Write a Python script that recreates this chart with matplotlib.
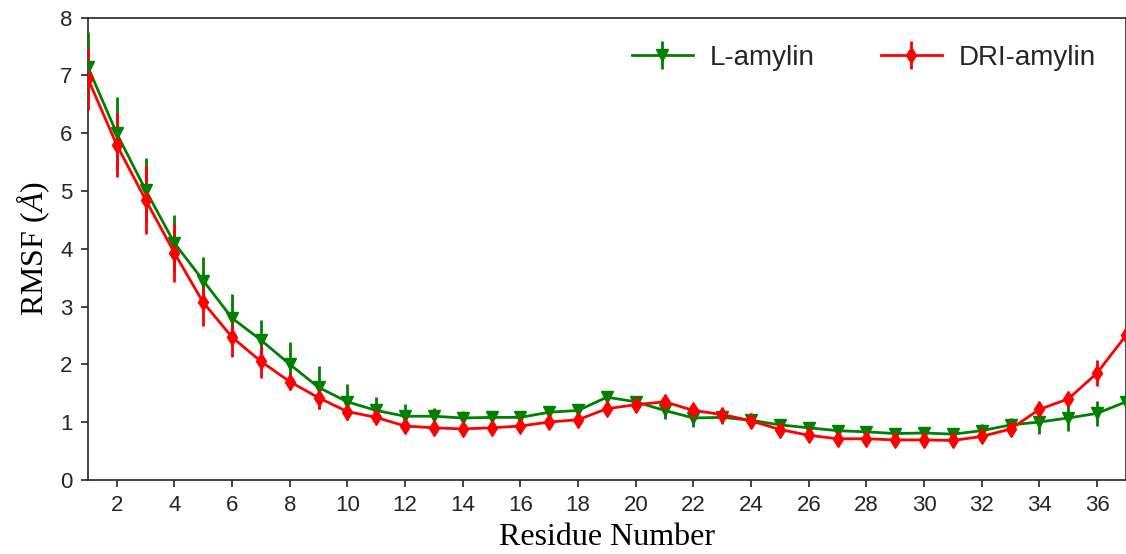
import numpy as np
import matplotlib.pyplot as plt

plt.rcParams['mathtext.fontset'] = 'custom'
plt.rcParams['mathtext.rm'] = 'Liberation Serif'
plt.rcParams['mathtext.it'] = 'Liberation Serif:italic'

residue = np.arange(1, 38)

l_amylin = [7.15, 6.00, 5.02, 4.10, 3.45, 2.80, 2.42, 2.00, 1.60, 1.35,
            1.20, 1.10, 1.10, 1.07, 1.08, 1.08, 1.17, 1.20, 1.43, 1.35,
            1.20, 1.07, 1.08, 1.03, 0.95, 0.90, 0.85, 0.83, 0.80, 0.81,
            0.79, 0.85, 0.95, 1.00, 1.07, 1.15, 1.35]
l_err = [0.60, 0.63, 0.55, 0.48, 0.40, 0.42, 0.35, 0.38, 0.37, 0.30,
         0.23, 0.22, 0.15, 0.12, 0.10, 0.10, 0.08, 0.08, 0.08, 0.08,
         0.15, 0.15, 0.12, 0.10, 0.08, 0.08, 0.07, 0.07, 0.07, 0.07,
         0.07, 0.12, 0.12, 0.20, 0.22, 0.22, 0.10]

dri_amylin = [6.95, 5.80, 4.85, 3.93, 3.07, 2.47, 2.05, 1.70, 1.42, 1.18,
              1.08, 0.93, 0.90, 0.88, 0.90, 0.93, 1.00, 1.04, 1.23, 1.30,
              1.35, 1.20, 1.13, 1.02, 0.87, 0.77, 0.71, 0.71, 0.69, 0.69,
              0.68, 0.75, 0.88, 1.22, 1.40, 1.85, 2.50]
dri_err = [0.55, 0.55, 0.60, 0.50, 0.40, 0.35, 0.28, 0.15, 0.20, 0.15,
           0.10, 0.10, 0.09, 0.09, 0.09, 0.09, 0.09, 0.09, 0.10, 0.10,
           0.10, 0.09, 0.09, 0.09, 0.09, 0.09, 0.08, 0.08, 0.08, 0.08,
           0.08, 0.09, 0.10, 0.10, 0.10, 0.22, 0.10]

fig = plt.figure(figsize=(11.26, 5.54), dpi=100)
ax = fig.add_axes([0.078, 0.134, 0.922, 0.834])

ax.errorbar(residue, l_amylin, yerr=l_err, color='green', marker='v',
            markersize=8, lw=2, elinewidth=2, capsize=0, label='L-amylin',
            zorder=3)
ax.errorbar(residue, dri_amylin, yerr=dri_err, color='red', marker='d',
            markersize=8, lw=2, elinewidth=2, capsize=0, label='DRI-amylin',
            zorder=3)

ax.set_xlim(1, 37)
ax.set_ylim(0, 8)
ax.set_xticks(np.arange(2, 37, 2))
ax.set_yticks(np.arange(0, 9, 1))
for lab in ax.get_xticklabels() + ax.get_yticklabels():
    lab.set_family('Liberation Sans')
    lab.set_color('#262626')
ax.tick_params(labelsize=16, direction='out', length=5, width=1.2,
               color='#262626', pad=6)
for s in ax.spines.values():
    s.set_color('#262626')
    s.set_linewidth(1.2)

ax.set_xlabel('Residue Number', family='Liberation Serif', fontsize=23,
              labelpad=5)
ax.set_ylabel(r'RMSF ($\mathit{Å}$)', family='Liberation Serif', fontsize=23,
              labelpad=6)

leg = ax.legend(loc='upper right', ncol=2, frameon=False,
                prop={'family': 'Liberation Sans', 'size': 20},
                handlelength=2.2, handletextpad=0.6, columnspacing=2.4,
                bbox_to_anchor=(0.995, 0.995))
for t in leg.get_texts():
    t.set_color('#262626')

fig.savefig('out.png', dpi=100)
